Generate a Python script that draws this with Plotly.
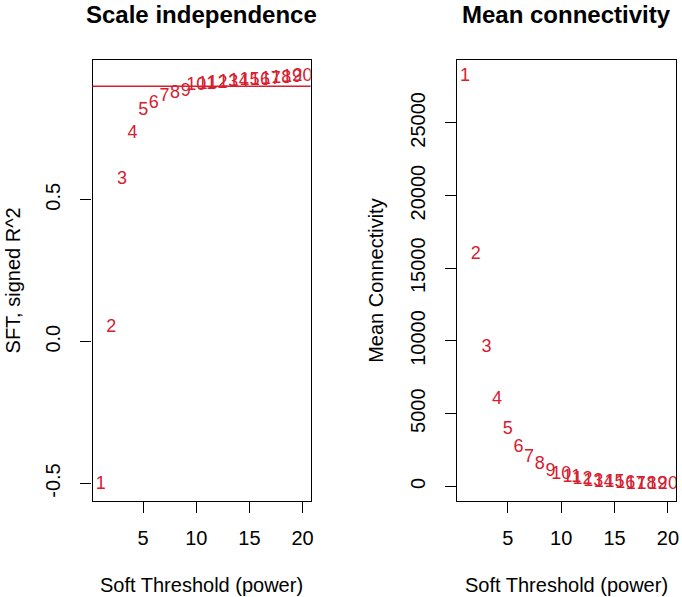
import plotly.graph_objects as go

powers = list(range(1, 21))
signed_r2 = [-0.504, 0.049, 0.571, 0.733, 0.814, 0.839, 0.863, 0.875, 0.882, 0.904,
             0.906, 0.910, 0.913, 0.916, 0.919, 0.922, 0.925, 0.927, 0.930, 0.935]
mean_k = [28200, 15950, 9560, 5970, 3930, 2660, 1970, 1500, 1040, 810,
          590, 465, 350, 280, 236, 195, 165, 145, 130, 120]
x_ticks = [5, 10, 15, 20]
left_yticks = [-0.5, 0.0, 0.5]
left_yticktext = ["-0.5", "0.0", "0.5"]
right_yticks = [0, 5000, 10000, 15000, 20000, 25000]
right_yticktext = ["0", "5000", "10000", "15000", "20000", "25000"]
r2_cutoff = 0.90

RED = "#d62030"
FONT = "Liberation Sans, Arial, Helvetica, sans-serif"


def rrange(vals):
    lo, hi = min(vals), max(vals)
    e = 0.04 * (hi - lo)
    return [lo - e, hi + e]


W, H = 682, 597
lx = [93 / W, 312 / W]
rx = [459 / W, 679 / W]
yd = [1 - 501 / H, 1 - 60 / H]

fig = go.Figure()
fig.add_trace(go.Scatter(x=powers, y=signed_r2, mode="text", text=[str(p) for p in powers],
                         textfont=dict(size=18, color=RED, family=FONT), xaxis="x", yaxis="y",
                         showlegend=False, hoverinfo="skip"))
fig.add_trace(go.Scatter(x=powers, y=mean_k, mode="text", text=[str(p) for p in powers],
                         textfont=dict(size=18, color=RED, family=FONT), xaxis="x2", yaxis="y2",
                         showlegend=False, hoverinfo="skip"))

axis_common = dict(showline=True, mirror=True, linecolor="black", linewidth=1.2,
                   ticks="outside", ticklen=11, tickwidth=1.2, tickcolor="black",
                   showgrid=False, zeroline=False,
                   tickfont=dict(size=20, color="black", family=FONT))

fig.update_layout(
    width=W, height=H, paper_bgcolor="white", plot_bgcolor="white",
    margin=dict(l=0, r=0, t=0, b=0),
    font=dict(family=FONT, color="black"),
    xaxis=dict(domain=lx, range=rrange(powers), tickvals=x_ticks, anchor="y",
               ticklabelstandoff=8, **axis_common),
    yaxis=dict(domain=yd, range=rrange(signed_r2), tickvals=left_yticks, ticktext=left_yticktext,
               tickangle=-90, anchor="x", ticklabelstandoff=12, **axis_common),
    xaxis2=dict(domain=rx, range=rrange(powers), tickvals=x_ticks, anchor="y2",
                ticklabelstandoff=8, **axis_common),
    yaxis2=dict(domain=yd, range=rrange(mean_k), tickvals=right_yticks, ticktext=right_yticktext,
                tickangle=-90, anchor="x2", ticklabelstandoff=12, **axis_common),
)

fig.add_shape(type="line", xref="x domain", yref="y", x0=0, x1=1, y0=r2_cutoff, y1=r2_cutoff,
              line=dict(color=RED, width=1.3))

anns = [
    dict(text="<b>Scale independence</b>", x=202 / W, y=1 - 15 / H, font=dict(size=24)),
    dict(text="<b>Mean connectivity</b>", x=569 / W, y=1 - 15 / H, font=dict(size=24)),
    dict(text="Soft Threshold (power)", x=202 / W, y=1 - 585 / H, font=dict(size=20)),
    dict(text="Soft Threshold (power)", x=569 / W, y=1 - 585 / H, font=dict(size=20)),
    dict(text="SFT, signed R^2", x=13 / W, y=(yd[0] + yd[1]) / 2, font=dict(size=20), textangle=-90),
    dict(text="Mean Connectivity", x=377 / W, y=(yd[0] + yd[1]) / 2, font=dict(size=20), textangle=-90),
]
for a in anns:
    fig.add_annotation(xref="paper", yref="paper", showarrow=False, xanchor="center",
                       yanchor="middle", **a)

fig.write_html("out.html", config={"displayModeBar": False},
               post_script="document.body.style.margin='0';")
